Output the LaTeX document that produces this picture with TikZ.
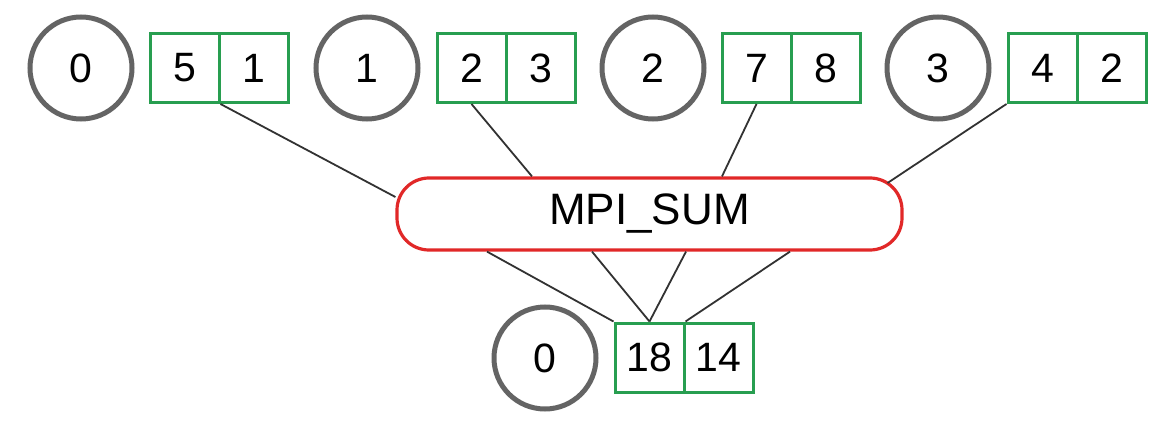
\documentclass[tikz,border=0pt]{standalone}
\usepackage{fontspec}
\setmainfont{Liberation Sans}
\begin{document}
\begin{tikzpicture}[x=1pt,y=-1pt,
  rank/.style={circle,draw=rankgray,line width=5pt,minimum size=102pt,inner sep=0pt,
    font=\fontsize{41}{48}\selectfont},
  cell/.style={rectangle,draw=cellgreen,line width=3pt,minimum width=69pt,minimum height=69pt,
    inner sep=0pt,font=\fontsize{41}{48}\selectfont},
  opbox/.style={rectangle,rounded corners=32pt,draw=opred,line width=3.2pt,fill=white,
    minimum width=505pt,minimum height=72pt,inner sep=0pt,font=\fontsize{44}{52}\selectfont},
  link/.style={draw=linkgray,line width=1.8pt}]
\definecolor{rankgray}{RGB}{100,100,100}
\definecolor{cellgreen}{RGB}{40,158,80}
\definecolor{opred}{RGB}{225,40,40}
\definecolor{linkgray}{RGB}{50,50,50}
\useasboundingbox[fill=white] (0,0) rectangle (1171,425);
% top row
\node[rank] (c0) at (81,68) {0};
\node[cell] (a0) at (184.5,68) {5};
\node[cell] (b0) at (253.5,68) {1};
\node[rank] (c1) at (367,68) {1};
\node[cell] (a1) at (471.5,68) {2};
\node[cell] (b1) at (540.5,68) {3};
\node[rank] (c2) at (653,68) {2};
\node[cell] (a2) at (756.5,68) {7};
\node[cell] (b2) at (825.5,68) {8};
\node[rank] (c3) at (938,68) {3};
\node[cell] (a3) at (1042.5,68) {4};
\node[cell] (b3) at (1111.5,68) {2};
% operation
\node[opbox] (sum) at (649.5,214) {MPI\_SUM};
% result
\node[rank] (rc) at (545,358) {0};
\node[cell] (r0) at (649.5,357.5) {18};
\node[cell] (r1) at (718.5,357.5) {14};
% connectors
\path[link] (a0.south east) -- ([shift={(0,-17)}]sum.west);
\path[link] (a1.south) -- ([shift={(-117.5,0)}]sum.north);
\path[link] (a2.south) -- ([shift={(72.5,0)}]sum.north);
\path[link] (a3.south west) -- ([shift={(238,-31)}]sum.center);
\path[link] ([shift={(-162.5,0)}]sum.south) -- (r0.north west);
\path[link] ([shift={(-57.5,0)}]sum.south) -- (r0.north);
\path[link] ([shift={(36.5,0)}]sum.south) -- (r0.north);
\path[link] ([shift={(140.5,0)}]sum.south) -- (r0.north east);
\end{tikzpicture}
\end{document}
